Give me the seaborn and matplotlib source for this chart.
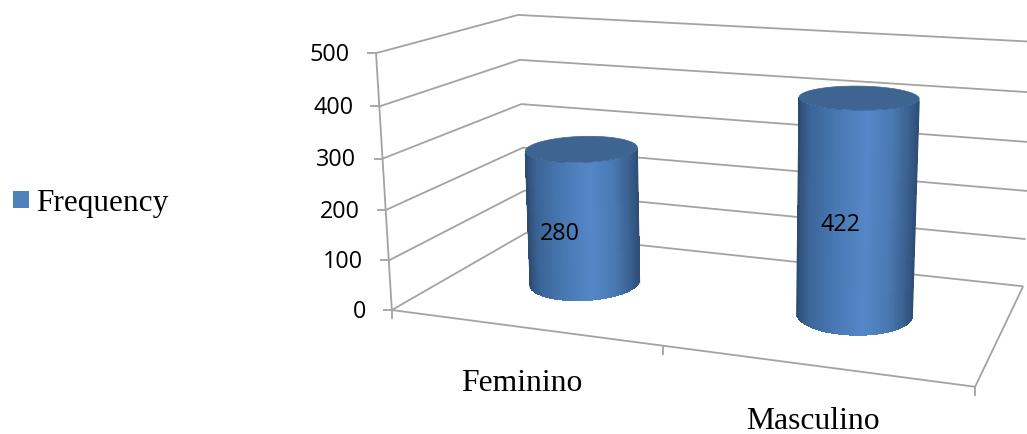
import numpy as np
import pandas as pd
import seaborn as sns
import matplotlib
matplotlib.use("Agg")
import matplotlib.pyplot as plt
from matplotlib.colors import LinearSegmentedColormap
from matplotlib.patches import Patch, Polygon

# Chart data
categories = ["Feminino", "Masculino"]
frequency = [280, 422]
y_ticks = [0, 100, 200, 300, 400, 500]
series_name = "Frequency"

Y_MAX = y_ticks[-1]
W, H = 1027, 434

sns.set_theme(style="white")
plt.rcParams["font.family"] = ["Liberation Serif", "DejaVu Sans"]

fig = plt.figure(figsize=(W / 100, H / 100), dpi=100, facecolor="white")
ax = fig.add_axes([0, 0, 1, 1])


# Camera for the box: (across, depth, height) in 0..1 maps to canvas pixels.
def fit_camera():
    anchors = [
        ((0, 0, 0), (391, 310)),
        ((0, 0, 1), (377, 53)),
        ((0, 1, 0), (527, 233)),
        ((0, 1, 1), (517, 15)),
        ((1, 0, 0), (975, 387)),
        ((1, 1, 0), (1023, 286)),
        ((1, 1, 1), (1036, 42)),
    ]
    rows = []
    for (a, b, c), (px, py) in anchors:
        rows.append([a, b, c, 1, 0, 0, 0, 0, -px * a, -px * b, -px * c, -px])
        rows.append([0, 0, 0, 0, a, b, c, 1, -py * a, -py * b, -py * c, -py])
    return np.linalg.svd(np.array(rows, float))[2][-1].reshape(3, 4)


CAMERA = fit_camera()


def project(u, d, v):
    u, d, v = np.broadcast_arrays(np.asarray(u, float), np.asarray(d, float), np.asarray(v, float))
    pts = np.stack([u, d, v, np.ones_like(u)], axis=-1) @ CAMERA.T
    return pts[..., 0] / pts[..., 2], pts[..., 1] / pts[..., 2]


# Frame lines: wall grid, floor outline, axis lines and tick marks.
GRID = "#a3a3a3"

frames = []
for i, tick in enumerate(y_ticks):
    v = tick / Y_MAX
    x, y = project([0, 0, 1], [0, 1, 1], [v, v, v])
    frames.append(pd.DataFrame({"sx": x, "sy": y, "seg": f"grid{i}"}))
    fx, fy = project(0, 0, v)
    frames.append(pd.DataFrame({"sx": [fx - 9, fx], "sy": [fy, fy], "seg": f"ytick{i}"}))
    ax.text(fx - 26, fy + 1.5, str(tick), ha="right", va="center",
            fontsize=16.8, family="Open Sans", color="black")

x, y = project([0, 0], [0, 0], [0, 1])
frames.append(pd.DataFrame({"sx": x, "sy": y, "seg": "yaxis"}))
x, y = project([0, 1, 1], [0, 0, 1], [0, 0, 0])
frames.append(pd.DataFrame({"sx": x, "sy": y, "seg": "floor"}))
for i, u in enumerate([0, 0.5, 1]):
    tx, ty = project(u, 0, 0)
    frames.append(pd.DataFrame({"sx": [tx, tx], "sy": [ty, ty + 9], "seg": f"xtick{i}"}))

sns.lineplot(data=pd.concat(frames, ignore_index=True), x="sx", y="sy", units="seg",
             estimator=None, sort=False, color=GRID, linewidth=1.3, ax=ax, legend=False,
             solid_capstyle="butt")

# Cylinders with a horizontal shading ramp across the visible side.
SIDE = LinearSegmentedColormap.from_list(
    "side", [(0, "#2d4c73"), (0.1, "#3b6598"), (0.35, "#4a7ab5"), (0.58, "#5587c8"),
             (0.78, "#4a7ab4"), (0.92, "#3b6291"), (1, "#2f4f78")])
FACE = "#3e6591"
RADIUS_ACROSS, RADIUS_DEPTH = 0.0975, 0.21
centres = [0.248, 0.751]
theta = np.linspace(np.pi / 2, 5 * np.pi / 2, 1441)
steps = np.linspace(0, 1, 201)

for centre, value in zip(centres, frequency):
    v = value / Y_MAX
    ring_u = centre + RADIUS_ACROSS * np.cos(theta)
    ring_d = 0.5 + RADIUS_DEPTH * np.sin(theta)
    bx, by = project(ring_u, ring_d, 0)
    tx, ty = project(ring_u, ring_d, v)

    # The visible side runs between the outermost points of the ring, through its front.
    mid = (bx + tx) / 2
    half = len(theta) // 2
    first, last = np.argmin(mid[:half]), half + np.argmax(mid[half:])
    even_x = mid[first] + steps * (mid[last] - mid[first])
    even_theta = np.interp(even_x, mid[first:last + 1], theta[first:last + 1])
    su = centre + RADIUS_ACROSS * np.cos(even_theta)
    sd = 0.5 + RADIUS_DEPTH * np.sin(even_theta)
    low_x, low_y = project(su, sd, 0)
    high_x, high_y = project(su, sd, v)

    ramp = (steps[:-1] + steps[1:]) / 2
    ax.pcolormesh(np.vstack([low_x, high_x]), np.vstack([low_y, high_y]), ramp[np.newaxis, :],
                  shading="flat", cmap=SIDE, vmin=0, vmax=1, edgecolors="none",
                  antialiased=False, zorder=3)
    # Smooth the two long outer edges of the side.
    for column, shade in ((1, 0.0), (-2, 1.0)):
        ax.plot([low_x[column], high_x[column]], [low_y[column], high_y[column]],
                color=SIDE(shade), linewidth=1.6, solid_capstyle="butt", zorder=3.5)
    # Flat top of the cylinder.
    ax.add_patch(Polygon(np.column_stack([tx, ty]), closed=True, facecolor=FACE,
                         edgecolor=FACE, linewidth=0.5, zorder=4))

# Value labels sit on the cylinder body.
label_offsets = [(-24, 17.5), (-16, 17)]
for centre, value, (ox, oy) in zip(centres, frequency, label_offsets):
    lx, ly = project(centre, 0.5, value / Y_MAX / 2)
    ax.text(lx + ox, ly + oy, str(value), ha="center", va="center",
            fontsize=16.8, family="Open Sans", color="black", zorder=5)

# Category labels below the front edge.
ax.text(522, 391, categories[0], ha="center", va="baseline", fontsize=22.8, color="black")
ax.text(813, 429, categories[1], ha="center", va="baseline", fontsize=22.8, color="black")

ax.set_xlim(0, W)
ax.set_ylim(H, 0)
ax.set_xlabel("")
ax.set_ylabel("")
ax.axis("off")

legend = ax.legend(handles=[Patch(facecolor="#4f81bd", edgecolor="none", label=series_name)],
                   loc="center left", bbox_to_anchor=(13 / W, 1 - 203 / H), frameon=False,
                   fontsize=22.5, handlelength=0.5, handleheight=0.5, handletextpad=0.25,
                   borderpad=0, borderaxespad=0, labelcolor="black")

fig.savefig("out.png", dpi=100, facecolor="white")
